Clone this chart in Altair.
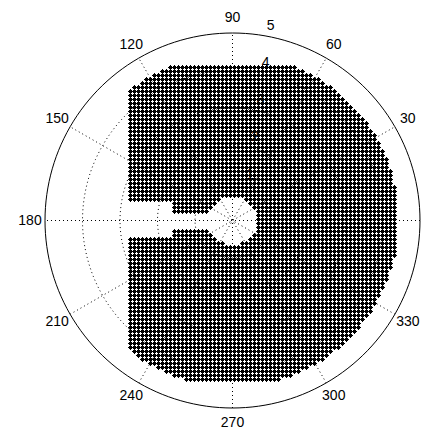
import numpy as np
import pandas as pd
import altair as alt

# ---- polar axes (MATLAB-style) ----
ring_radii = [1, 2, 3, 4]          # dotted rings
outer_radius = 5                   # solid outer circle
spoke_angles = [30, 60, 90, 120, 150, 180]   # dotted diameters (deg)
angle_labels = [0, 30, 60, 90, 120, 150, 180, 210, 240, 270, 300, 330]
radial_labels = [1, 2, 3, 4, 5]
radial_label_angle = 82
angle_label_radius = 5.4

# ---- grid of plotted points ----
grid_step = 0.10667
grid_top_y = 4.08
grid_left_x = -2.72
grid_bottom_y = -4.25
outer_limit_r = 4.42
hole_r = 0.66
wide_slot_x_end = -1.55
wide_slot_y = [-0.45, 0.50]
narrow_slot_y = [-0.24, 0.19]

# build the point table
xs = grid_left_x + grid_step * np.arange(0, 80)
ys = grid_top_y - grid_step * np.arange(0, 90)
xs = xs[xs <= outer_limit_r]
ys = ys[ys >= grid_bottom_y]
GX, GY = np.meshgrid(xs, ys)
GX = GX.ravel()
GY = GY.ravel()
R = np.hypot(GX, GY)
keep = R <= outer_limit_r
keep &= R >= hole_r
keep &= ~((GX < wide_slot_x_end) & (GY > wide_slot_y[0]) & (GY < wide_slot_y[1]))
keep &= ~((GX < 0) & (GY > narrow_slot_y[0]) & (GY < narrow_slot_y[1]))
pts = pd.DataFrame({"x": GX[keep], "y": GY[keep]})

# rings
t = np.arange(0, 361, 2)
ring_rows = []
for r in ring_radii:
    for a in t:
        ring_rows.append({"ring": r, "t": a, "x": r * np.cos(np.radians(a)), "y": r * np.sin(np.radians(a))})
rings = pd.DataFrame(ring_rows)
outer = pd.DataFrame({"t": t,
                      "x": outer_radius * np.cos(np.radians(t)),
                      "y": outer_radius * np.sin(np.radians(t))})

spoke_rows = []
for a in spoke_angles:
    for s, sign in enumerate([-1, 1]):
        spoke_rows.append({"spoke": a, "o": s,
                           "x": sign * outer_radius * np.cos(np.radians(a)),
                           "y": sign * outer_radius * np.sin(np.radians(a))})
spokes = pd.DataFrame(spoke_rows)

alabels = pd.DataFrame({
    "txt": [str(a) for a in angle_labels],
    "x": [angle_label_radius * np.cos(np.radians(a)) for a in angle_labels],
    "y": [angle_label_radius * np.sin(np.radians(a)) for a in angle_labels],
})
c82 = np.cos(np.radians(radial_label_angle))
s82 = np.sin(np.radians(radial_label_angle))
rlabels = pd.DataFrame({
    "txt": [str(i) for i in radial_labels],
    "x": [(i + 0.05) * c82 for i in radial_labels],
    "y": [(i + 0.05) * s82 for i in radial_labels],
})

# ---- scales ----
W, H = 419, 423
xscale = alt.Scale(domain=[-5.98667, 5.18667], nice=False, zero=False)
yscale = alt.Scale(domain=[-5.61333, 5.66667], nice=False, zero=False)
X = alt.X("x:Q", scale=xscale, axis=None)
Y = alt.Y("y:Q", scale=yscale, axis=None)

FONT = "Liberation Sans"

# pixel-stepped diamond marker (MATLAB 'd' look)
DIAMOND = ("M-0.5,-2.5H0.5V-1.5H1.5V-0.5H2.5V0.5H1.5V1.5H0.5V2.5"
           "H-0.5V1.5H-1.5V0.5H-2.5V-0.5H-1.5V-1.5H-0.5Z")

ring_layer = alt.Chart(rings).mark_line(
    color="black", strokeWidth=1, strokeDash=[1, 3]
).encode(x=X, y=Y, detail="ring:N", order="t:Q")

outer_layer = alt.Chart(outer).mark_line(
    color="black", strokeWidth=1
).encode(x=X, y=Y, order="t:Q")

spoke_layer = alt.Chart(spokes).mark_line(
    color="black", strokeWidth=1, strokeDash=[1, 3]
).encode(x=X, y=Y, detail="spoke:N", order="o:Q")

rlabel_layer = alt.Chart(rlabels).mark_text(
    align="left", baseline="bottom", dx=8, fontSize=14, font=FONT, color="black"
).encode(x=X, y=Y, text="txt:N")

alabel_layer = alt.Chart(alabels).mark_text(
    align="center", baseline="middle", fontSize=14, font=FONT, color="black"
).encode(x=X, y=Y, text="txt:N")

point_layer = alt.Chart(pts).mark_point(
    shape=DIAMOND, filled=True, size=4, color="black", opacity=1
).encode(x=X, y=Y)

chart = alt.layer(
    ring_layer, spoke_layer, outer_layer, rlabel_layer, alabel_layer, point_layer
).properties(
    width=W, height=H, padding=0, autosize=alt.AutoSizeParams(type="none")
).configure_view(stroke=None)

chart.save("out.html", embed_options={"renderer": "svg", "actions": False})
